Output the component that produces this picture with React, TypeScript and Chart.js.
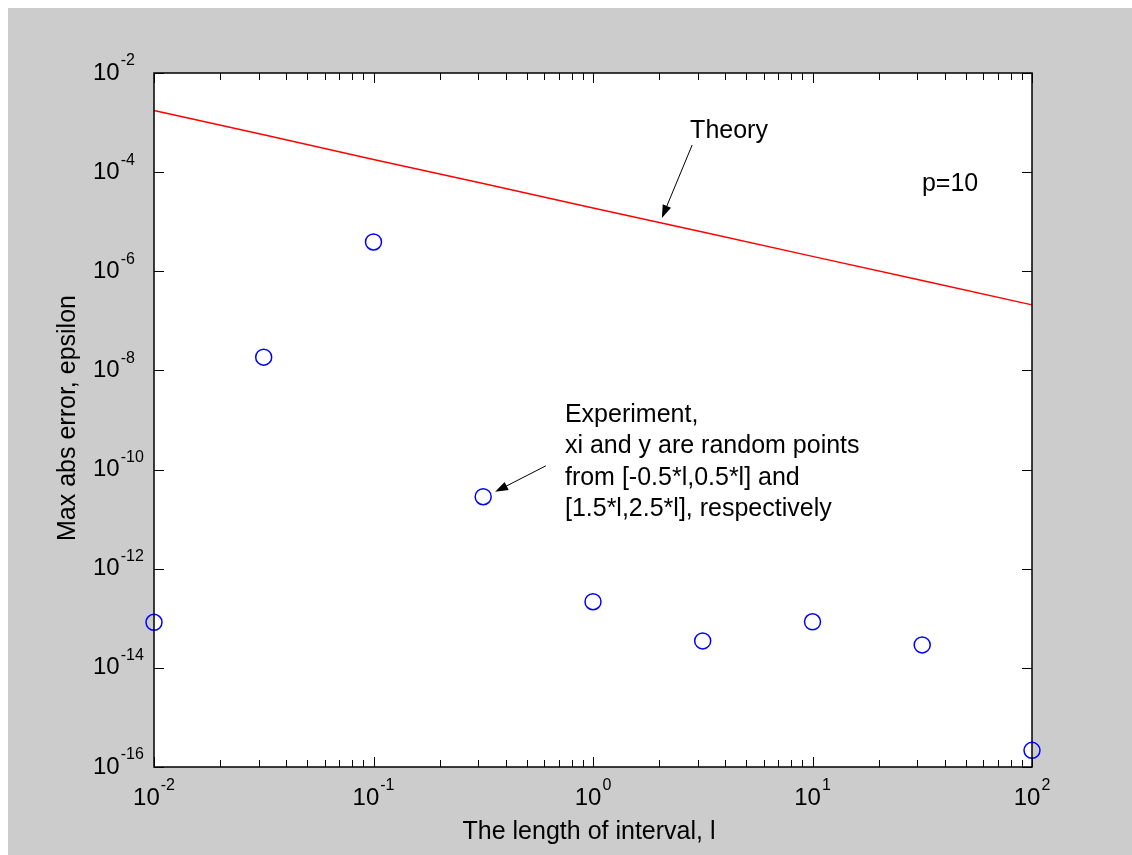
import React, { useEffect, useRef } from "react";
import { Chart, registerables } from "chart.js";

Chart.register(...registerables);

const X_VALUES = [0.01, 0.0316, 0.1, 0.316, 1, 3.16, 10, 31.6, 100];
const EXPERIMENT = [8.3e-14, 1.85e-8, 3.9e-6, 2.83e-11, 2.16e-13, 3.5e-14, 8.5e-14, 2.9e-14, 2.17e-16];
const THEORY = [1.75e-3, 5.7e-4, 1.8e-4, 5.9e-5, 1.9e-5, 6.2e-6, 2.0e-6, 6.5e-7, 2.1e-7];
const X_TICK_EXPONENTS = [-2, -1, 0, 1, 2];
const Y_TICK_EXPONENTS = [-2, -4, -6, -8, -10, -12, -14, -16];
const X_MINOR_MULTIPLIERS = [2, 3, 4, 5, 6, 7, 8, 9];
const X_TITLE = "The length of interval, l";
const Y_TITLE = "Max abs error, epsilon";
const THEORY_LABEL = "Theory";
const P_LABEL = "p=10";
const EXPERIMENT_LABEL = [
  "Experiment,",
  "xi and y are random points",
  "from [-0.5*l,0.5*l] and",
  "[1.5*l,2.5*l], respectively",
];

const FONT = "'Liberation Sans', Arial, sans-serif";

function drawArrow(ctx: CanvasRenderingContext2D, x1: number, y1: number, x2: number, y2: number) {
  const ang = Math.atan2(y2 - y1, x2 - x1);
  const len = 13;
  const hw = 4.5;
  ctx.beginPath();
  ctx.moveTo(x1, y1);
  ctx.lineTo(x2 - Math.cos(ang) * len * 0.8, y2 - Math.sin(ang) * len * 0.8);
  ctx.strokeStyle = "#000";
  ctx.lineWidth = 1;
  ctx.stroke();
  ctx.beginPath();
  ctx.moveTo(x2, y2);
  ctx.lineTo(x2 - Math.cos(ang) * len - Math.sin(ang) * hw, y2 - Math.sin(ang) * len + Math.cos(ang) * hw);
  ctx.lineTo(x2 - Math.cos(ang) * len + Math.sin(ang) * hw, y2 - Math.sin(ang) * len - Math.cos(ang) * hw);
  ctx.closePath();
  ctx.fillStyle = "#000";
  ctx.fill();
}

const axesPlugin = {
  id: "matlabAxes",
  afterDraw(chart: any) {
    const ctx: CanvasRenderingContext2D = chart.ctx;
    const { left, right, top, bottom } = chart.chartArea;
    const xs = chart.scales.x;
    const ys = chart.scales.y;
    ctx.save();

    // box
    ctx.strokeStyle = "#000";
    ctx.lineWidth = 1.5;
    ctx.strokeRect(left, top, right - left, bottom - top);

    // x ticks
    ctx.lineWidth = 1;
    const majorLen = 10;
    const minorLen = 7;
    for (let i = 0; i < X_TICK_EXPONENTS.length; i++) {
      const e = X_TICK_EXPONENTS[i];
      const px = Math.round(xs.getPixelForValue(Math.pow(10, e))) + 0.5;
      ctx.beginPath();
      ctx.moveTo(px, bottom);
      ctx.lineTo(px, bottom - majorLen);
      ctx.moveTo(px, top);
      ctx.lineTo(px, top + majorLen);
      ctx.stroke();
      if (i < X_TICK_EXPONENTS.length - 1) {
        for (const m of X_MINOR_MULTIPLIERS) {
          const mx = Math.round(xs.getPixelForValue(m * Math.pow(10, e))) + 0.5;
          ctx.beginPath();
          ctx.moveTo(mx, bottom);
          ctx.lineTo(mx, bottom - minorLen);
          ctx.moveTo(mx, top);
          ctx.lineTo(mx, top + minorLen);
          ctx.stroke();
        }
      }
    }
    // y ticks
    for (const e of Y_TICK_EXPONENTS) {
      const py = Math.round(ys.getPixelForValue(Math.pow(10, e))) + 0.5;
      ctx.beginPath();
      ctx.moveTo(left, py);
      ctx.lineTo(left + majorLen, py);
      ctx.moveTo(right, py);
      ctx.lineTo(right - majorLen, py);
      ctx.stroke();
    }

    ctx.fillStyle = "#000";
    const baseFont = `24px ${FONT}`;
    const supFont = `16px ${FONT}`;

    // x labels
    ctx.textBaseline = "middle";
    for (const e of X_TICK_EXPONENTS) {
      const px = xs.getPixelForValue(Math.pow(10, e));
      ctx.font = baseFont;
      const wb = ctx.measureText("10").width;
      ctx.font = supFont;
      const ws = ctx.measureText(String(e)).width;
      const total = wb + 1 + ws;
      const x0 = px - total / 2;
      ctx.textAlign = "left";
      ctx.font = baseFont;
      ctx.fillText("10", x0, bottom + 31);
      ctx.font = supFont;
      ctx.fillText(String(e), x0 + wb + 1, bottom + 19);
    }
    // y labels
    for (const e of Y_TICK_EXPONENTS) {
      const py = ys.getPixelForValue(Math.pow(10, e));
      const x0 = left - 61;
      ctx.textAlign = "left";
      ctx.font = baseFont;
      const wb = ctx.measureText("10").width;
      ctx.fillText("10", x0, py);
      ctx.font = supFont;
      ctx.fillText(String(e), x0 + wb + 1, py - 12);
    }

    // titles
    ctx.font = `25px ${FONT}`;
    ctx.textAlign = "center";
    ctx.fillText(X_TITLE, (left + right) / 2 - 4, bottom + 65);
    ctx.save();
    ctx.translate(left - 86, (top + bottom) / 2 - 2);
    ctx.rotate(-Math.PI / 2);
    ctx.fillText(Y_TITLE, 0, 0);
    ctx.restore();

    // annotations
    ctx.textAlign = "left";
    ctx.font = `25px ${FONT}`;
    ctx.fillText(THEORY_LABEL, xs.getPixelForValue(2.77), ys.getPixelForValue(6.8e-4));
    ctx.fillText(P_LABEL, xs.getPixelForValue(31.5), ys.getPixelForValue(5.8e-5));
    const ex = xs.getPixelForValue(0.745);
    const ey = ys.getPixelForValue(1.27e-9);
    EXPERIMENT_LABEL.forEach((line, i) => {
      ctx.fillText(line, ex, ey + i * 31.5);
    });

    drawArrow(
      ctx,
      xs.getPixelForValue(2.83),
      ys.getPixelForValue(3.53e-4),
      xs.getPixelForValue(2.06),
      ys.getPixelForValue(1.19e-5)
    );
    drawArrow(
      ctx,
      xs.getPixelForValue(0.61),
      ys.getPixelForValue(1.19e-10),
      xs.getPixelForValue(0.358),
      ys.getPixelForValue(3.56e-11)
    );

    ctx.restore();
  },
};

export default function App() {
  const canvasRef = useRef<HTMLCanvasElement | null>(null);

  useEffect(() => {
    if (!canvasRef.current) return;
    const chart = new Chart(canvasRef.current, {
      type: "scatter",
      data: {
        datasets: [
          {
            label: "Theory",
            data: X_VALUES.map((x, i) => ({ x, y: THEORY[i] })),
            showLine: true,
            borderColor: "#ff0000",
            backgroundColor: "#ff0000",
            borderWidth: 1.5,
            pointRadius: 0,
            clip: false as any,
          },
          {
            label: "Experiment",
            data: X_VALUES.map((x, i) => ({ x, y: EXPERIMENT[i] })),
            showLine: false,
            borderColor: "#0000ff",
            backgroundColor: "rgba(0,0,0,0)",
            borderWidth: 1.5,
            pointRadius: 8,
            pointStyle: "circle",
            clip: false as any,
          },
        ],
      },
      options: {
        animation: false,
        responsive: false,
        maintainAspectRatio: false,
        layout: { padding: { left: 146, top: 65, right: 100, bottom: 88 } },
        plugins: {
          legend: { display: false },
          tooltip: { enabled: false },
          title: { display: false },
        },
        scales: {
          x: { type: "logarithmic", min: 0.01, max: 100, display: false },
          y: { type: "logarithmic", min: 1e-16, max: 1e-2, display: false },
        },
      },
      plugins: [
        {
          id: "plotBg",
          beforeDraw(c: any) {
            const { left, right, top, bottom } = c.chartArea;
            c.ctx.save();
            c.ctx.fillStyle = "#ffffff";
            c.ctx.fillRect(left, top, right - left, bottom - top);
            c.ctx.restore();
          },
        },
        axesPlugin,
      ],
    });
    return () => chart.destroy();
  }, []);

  return (
    <div
      style={{
        position: "fixed",
        left: 8,
        top: 8,
        width: 1124,
        height: 847,
        background: "#cccccc",
      }}
    >
      <canvas ref={canvasRef} width={1124} height={847} style={{ display: "block" }} />
    </div>
  );
}
